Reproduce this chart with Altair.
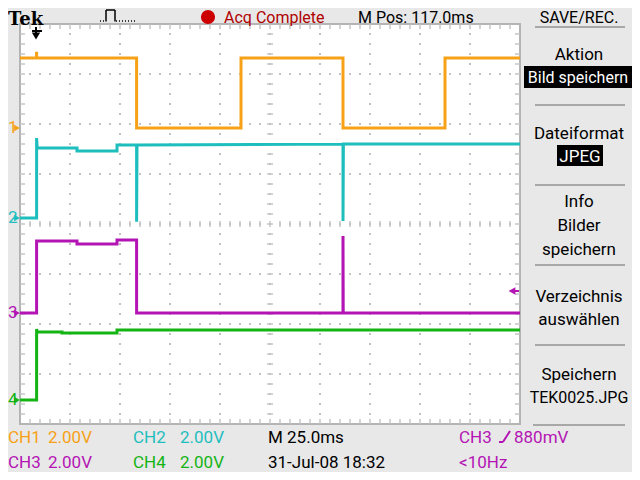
import altair as alt
import pandas as pd

# ------------------------------------------------------------------ data
# time in ms relative to the trigger point, levels in volts (read from the screen)
ch1_t = [-8.0, 0.3, 0.3, 0.3, 50.3, 50.3, 102.5, 102.5, 153.5, 153.5, 204.5, 204.5, 242.0]
ch1_v = [2.80, 2.80, 3.05, 2.80, 2.80, 0.00, 0.00, 2.80, 2.80, 0.00, 0.00, 2.80, 2.80]

ch2_t = [-8.0, 0.3, 0.3, 0.6, 20.5, 20.5, 40.5, 40.5, 50.3, 50.3, 50.5, 153.5, 153.5, 153.7, 242.0]
ch2_v = [0.00, 0.00, 3.20, 2.80, 2.80, 2.68, 2.68, 2.92, 2.92, -0.15, 2.92, 2.96, -0.12, 2.96, 2.96]

ch3_t = [-8.0, 0.3, 0.3, 20.5, 20.5, 40.5, 40.5, 50.3, 50.3, 153.5, 153.5, 153.6, 242.0]
ch3_v = [0.00, 0.00, 2.88, 2.88, 2.76, 2.76, 2.92, 2.92, 0.00, 0.00, 3.08, 0.00, 0.00]

ch4_t = [-8.0, 0.3, 0.3, 0.6, 13.0, 13.0, 40.5, 40.5, 242.0]
ch4_v = [0.00, 0.00, 2.84, 2.72, 2.72, 2.68, 2.68, 2.80, 2.80]

channels = ["CH1", "CH2", "CH3", "CH4"]
ch_offset_div = [1.92, 0.12, -1.78, -3.52]
volts_per_div = [2.0, 2.0, 2.0, 2.0]
ch_colors = ["#F7A116", "#1EBEBE", "#B414B4", "#14B414"]

trigger_level_v = 0.88          # CH3 rising edge trigger
time_domain = [-8.0, 242.0]     # 10 div x 25 ms, centre at M Pos 117.0 ms
div_domain = [-4.0, 4.0]

status_top = ["Tek", "Acq Complete", "M Pos: 117.0ms", "SAVE/REC."]
status_row1 = ["CH1", "2.00V", "CH2", "2.00V", "M 25.0ms", "CH3", "880mV"]
status_row2 = ["CH3", "2.00V", "CH4", "2.00V", "31-Jul-08 18:32", "<10Hz"]
menu_text = ["Aktion", "Bild speichern", "Dateiformat", "JPEG", "Info", "Bilder",
             "speichern", "Verzeichnis", "auswählen", "Speichern", "TEK0025.JPG"]

# ------------------------------------------------------------------ style
FONT = "Roboto"
BG = "#E8E8E8"
GRID = "#C2C2C2"
BORDER = "#B4B4B4"
SEP = "#A8A8A8"
VX, VY = 20, 24            # screen position of the plot area's corner
W, H = 500, 400

xs = alt.Scale(domain=time_domain, nice=False, zero=False)
ys = alt.Scale(domain=div_domain, nice=False, zero=False)
one = pd.DataFrame({"k": [0]})


def X(field="t"):
    return alt.X(f"{field}:Q", scale=xs, axis=None)


def Y(field="d"):
    return alt.Y(f"{field}:Q", scale=ys, axis=None)


def px(x):
    return alt.value(x - VX)


def py(y):
    return alt.value(y - VY)


def txt(s, x, y, color="black", size=17, align="left", font=FONT, weight="normal"):
    return alt.Chart(one).mark_text(
        text=s, align=align, baseline="alphabetic", font=font, fontSize=size,
        color=color, fontWeight=weight).encode(x=px(x), y=py(y))


def hline(x1, x2, y, color=SEP, w=2, dash=None):
    kw = dict(color=color, strokeWidth=w)
    if dash:
        kw["strokeDash"] = dash
    return alt.Chart(one).mark_rule(**kw).encode(x=px(x1), x2=px(x2), y=py(y))


def seg(x1, y1, x2, y2, color="black", w=1.5):
    return alt.Chart(one).mark_rule(color=color, strokeWidth=w).encode(
        x=px(x1), x2=px(x2), y=py(y1), y2=py(y2))


def box(x1, x2, y1, y2, color="black"):
    return alt.Chart(one).mark_rect(color=color).encode(
        x=px(x1), x2=px(x2), y=py(y1), y2=py(y2))


layers = []

# ------------------------------------------------------------------ graticule
vdiv = [time_domain[0] + 25 * k for k in range(1, 10)]
hdiv = [-3, -2, -1, 0, 1, 2, 3]
minor_t = [time_domain[0] + 5 * k for k in range(1, 50)]
minor_d = [round(-4 + 0.2 * k, 2) for k in range(1, 40)]

layers.append(alt.Chart(pd.DataFrame({"t": vdiv})).mark_rule(
    color=GRID, strokeWidth=2, strokeDash=[2, 8], strokeDashOffset=1).encode(
    x=X(), y=alt.value(0), y2=alt.value(H)))
layers.append(alt.Chart(pd.DataFrame({"d": hdiv})).mark_rule(
    color=GRID, strokeWidth=2, strokeDash=[2, 8], strokeDashOffset=1).encode(
    y=Y(), x=alt.value(0), x2=alt.value(W)))

mt = pd.DataFrame({"t": minor_t})
md = pd.DataFrame({"d": minor_d})
for dv, sz in [(4, 10), (-4, 10), (0, 6)]:
    layers.append(alt.Chart(mt).mark_tick(orient="vertical", size=sz, thickness=2,
                                          color=GRID, clip=True).encode(
        x=X(), y=alt.Y(datum=dv, scale=ys, axis=None)))
for tv, sz in [(time_domain[0], 10), (time_domain[1], 10), (117.0, 6)]:
    layers.append(alt.Chart(md).mark_tick(orient="horizontal", size=sz, thickness=2,
                                          color=GRID, clip=True).encode(
        y=Y(), x=alt.X(datum=tv, scale=xs, axis=None)))

# ------------------------------------------------------------------ traces
series = [(ch1_t, ch1_v), (ch2_t, ch2_v), (ch3_t, ch3_v), (ch4_t, ch4_v)]
for (tt, vv), off, vpd, col in zip(series, ch_offset_div, volts_per_div, ch_colors):
    df = pd.DataFrame({"t": tt, "d": [off + v / vpd for v in vv], "i": range(len(tt))})
    layers.append(alt.Chart(df).mark_line(color=col, strokeWidth=3, clip=True).encode(
        x=X(), y=Y(), order=alt.Order("i:Q")))

# ground markers on the left
for n, (off, col) in enumerate(zip(ch_offset_div, ch_colors), start=1):
    layers.append(alt.Chart(one).mark_text(
        text=str(n), align="left", baseline="middle", font=FONT, fontSize=17,
        color=col).encode(x=px(8), y=alt.Y(datum=off, scale=ys, axis=None)))
    layers.append(alt.Chart(one).mark_point(
        shape="triangle-right", filled=True, size=45, color=col, opacity=1).encode(
        x=px(17), y=alt.Y(datum=off, scale=ys, axis=None)))

# trigger level marker (CH3) on the right
trig_div = ch_offset_div[2] + trigger_level_v / volts_per_div[2]
layers.append(alt.Chart(one).mark_point(
    shape="triangle-left", filled=True, size=60, color=ch_colors[2], opacity=1).encode(
    x=px(512), y=alt.Y(datum=trig_div, scale=ys, axis=None)))
layers.append(alt.Chart(one).mark_rule(color=ch_colors[2], strokeWidth=2).encode(
    x=px(512), x2=px(519), y=alt.Y(datum=trig_div, scale=ys, axis=None)))

# trigger position marker at the top
layers.append(alt.Chart(one).mark_point(
    shape="triangle-down", filled=True, size=70, color="black", opacity=1).encode(
    x=alt.X(datum=0, scale=xs, axis=None), y=py(36)))
layers.append(alt.Chart(one).mark_rule(color="black", strokeWidth=2).encode(
    x=alt.X(datum=0, scale=xs, axis=None), y=py(27), y2=py(35)))
layers.append(alt.Chart(one).mark_rule(color="black", strokeWidth=2).encode(
    x=px(32), x2=px(42), y=py(31)))

# ------------------------------------------------------------------ top bar
TOPB = 23
layers.append(txt(status_top[0], 8, 25, size=18, font="DejaVu Serif", weight="bold"))
# pulse icon
layers.append(hline(100, 106, 21, color="black", w=1.5, dash=[1, 2]))
layers.append(seg(106, 21.5, 106, 10))
layers.append(seg(106, 10, 115, 10))
layers.append(seg(115, 10, 115, 21.5))
layers.append(hline(116, 135, 21, color="black", w=1.5, dash=[1, 2]))
layers.append(alt.Chart(one).mark_point(shape="circle", filled=True, size=200,
                                        color="#CC0000", opacity=1).encode(x=px(208), y=py(17)))
layers.append(txt(status_top[1], 224, TOPB, color="#B00000", size=16))
layers.append(txt(status_top[2], 358, TOPB, size=16))
layers.append(txt(status_top[3], 579, TOPB, align="center", size=16))
layers.append(hline(535, 625, 27))

# ------------------------------------------------------------------ right menu
MX = 579
layers.append(txt(menu_text[0], MX, 60, align="center"))
layers.append(box(524, 632, 66, 88))
layers.append(txt(menu_text[1], 578, 83, color="white", align="center", size=16))
layers.append(hline(535, 625, 105))
layers.append(txt(menu_text[2], MX, 139, align="center"))
layers.append(box(557, 603, 145, 166))
layers.append(txt(menu_text[3], 580, 162, color="white", align="center"))
layers.append(hline(535, 625, 185))
layers.append(txt(menu_text[4], MX, 207, align="center"))
layers.append(txt(menu_text[5], MX, 231, align="center"))
layers.append(txt(menu_text[6], MX, 255, align="center"))
layers.append(hline(535, 625, 265))
layers.append(txt(menu_text[7], MX, 302, align="center"))
layers.append(txt(menu_text[8], MX, 325, align="center"))
layers.append(hline(535, 625, 345))
layers.append(txt(menu_text[9], MX, 380, align="center"))
layers.append(txt(menu_text[10], MX, 403, align="center", size=16))
layers.append(hline(533, 625, 425))

# ------------------------------------------------------------------ bottom status
r1, r2 = 443, 468
layers.append(txt(status_row1[0], 8, r1, color=ch_colors[0]))
layers.append(txt(status_row1[1], 48, r1, color=ch_colors[0]))
layers.append(txt(status_row1[2], 133, r1, color=ch_colors[1]))
layers.append(txt(status_row1[3], 180, r1, color=ch_colors[1]))
layers.append(txt(status_row1[4], 268, r1))
layers.append(txt(status_row1[5], 459, r1, color=ch_colors[2]))
layers.append(seg(499, 442, 503, 442, color=ch_colors[2], w=2))
layers.append(seg(503, 442, 510, 431, color=ch_colors[2], w=2))
layers.append(txt(status_row1[6], 514, r1, color=ch_colors[2]))

layers.append(txt(status_row2[0], 8, r2, color=ch_colors[2]))
layers.append(txt(status_row2[1], 48, r2, color=ch_colors[2]))
layers.append(txt(status_row2[2], 133, r2, color=ch_colors[3]))
layers.append(txt(status_row2[3], 180, r2, color=ch_colors[3]))
layers.append(txt(status_row2[4], 268, r2))
layers.append(txt(status_row2[5], 459, r2, color=ch_colors[2]))

chart = alt.layer(*layers).properties(
    width=W, height=H,
    padding={"left": VX - 8, "top": VY - 8, "right": 632 - VX - W, "bottom": 472 - VY - H},
    autosize=alt.AutoSizeParams(type="none"),
).configure(background=BG).configure_view(fill="white", stroke=BORDER, strokeWidth=2)

chart.save("out.html", embed_options={"renderer": "svg", "actions": False})
